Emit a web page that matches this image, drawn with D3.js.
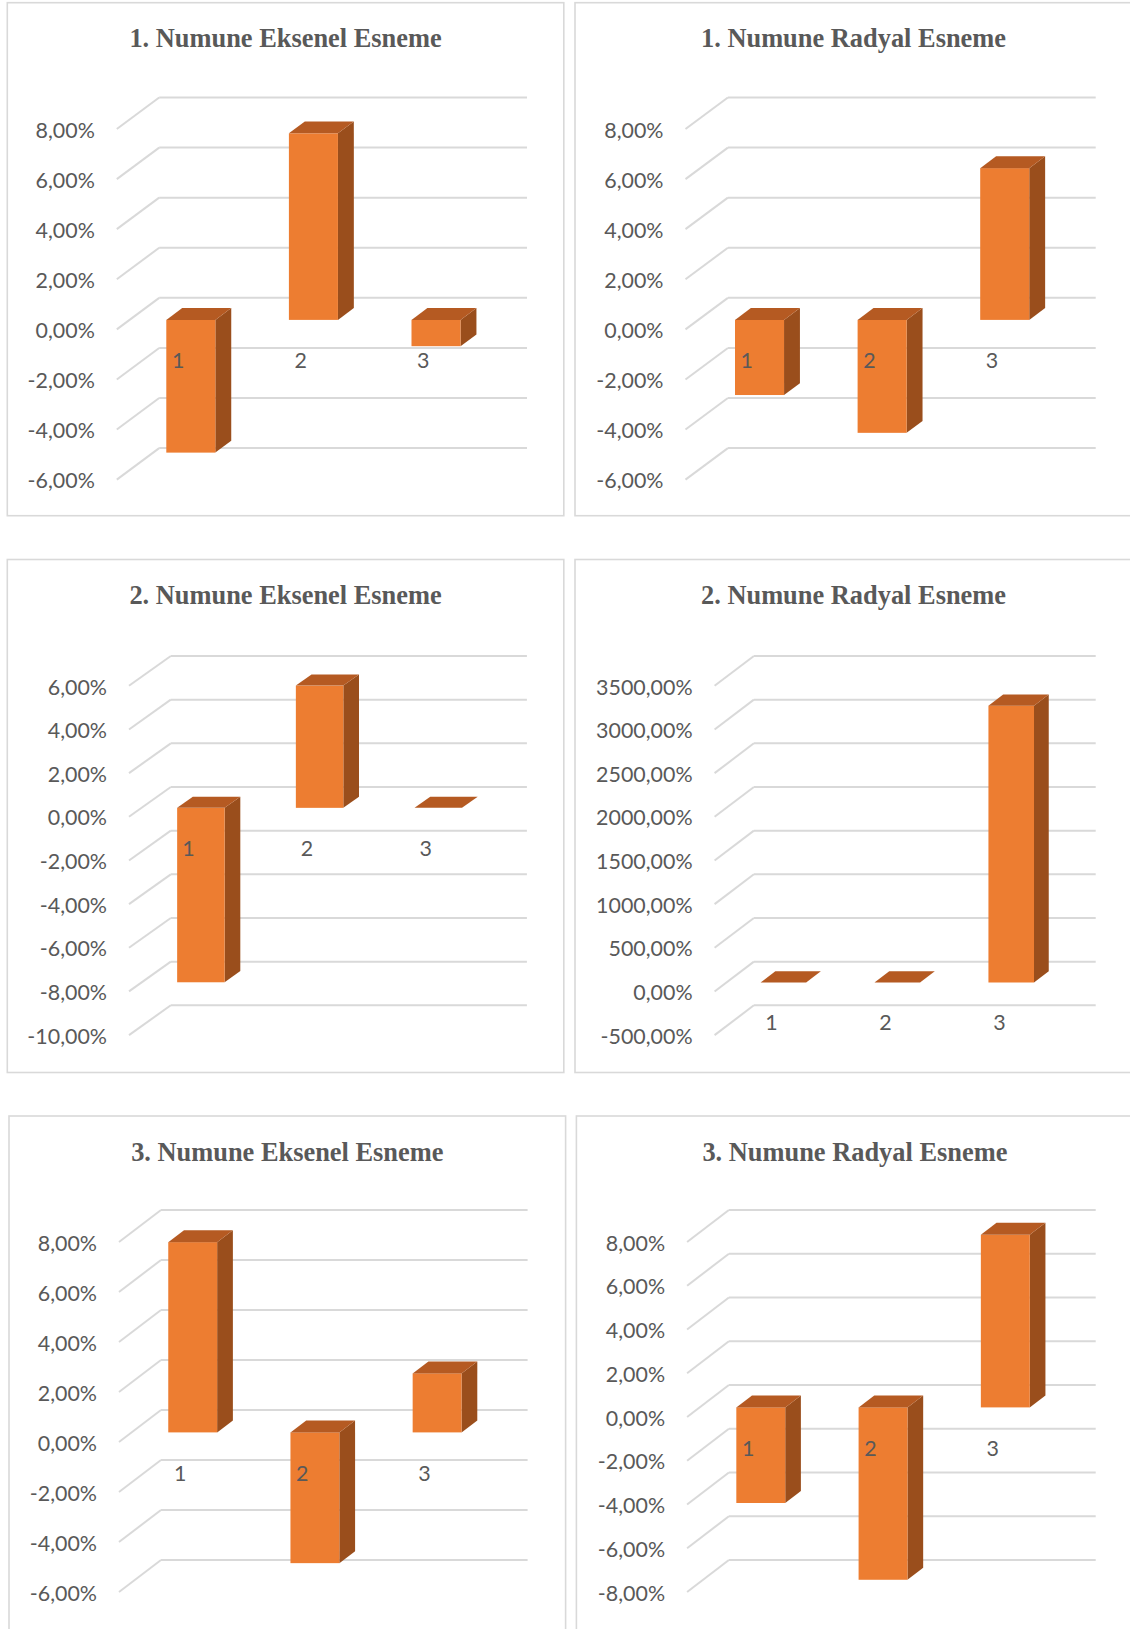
<!DOCTYPE html>
<html><head><meta charset="utf-8">
<script src="https://cdn.jsdelivr.net/npm/d3@7"></script>
<style>body{margin:0;background:#fff} svg{display:block}</style>
</head><body>
<svg id="c" width="1130" height="1629"></svg>
<script>
// ---------- data ----------
const categories = ["1", "2", "3"];
const titles = [
  "1. Numune Eksenel Esneme", "1. Numune Radyal Esneme",
  "2. Numune Eksenel Esneme", "2. Numune Radyal Esneme",
  "3. Numune Eksenel Esneme", "3. Numune Radyal Esneme"
];
const numune1Eksenel = [-5.30, 7.45, -1.05];
const numune1Radyal  = [-3.00, -4.51, 6.06];
const numune2Eksenel = [-7.99, 5.60, 0.00];
const numune2Radyal  = [0.00, 0.00, 3170];
const numune3Eksenel = [7.61, -5.23, 2.36];
const numune3Radyal  = [-4.37, -7.88, 7.89];
const ticks1Eksenel = [-6, -4, -2, 0, 2, 4, 6, 8];
const ticks1Radyal  = [-6, -4, -2, 0, 2, 4, 6, 8];
const ticks2Eksenel = [-10, -8, -6, -4, -2, 0, 2, 4, 6];
const ticks2Radyal  = [-500, 0, 500, 1000, 1500, 2000, 2500, 3000, 3500];
const ticks3Eksenel = [-6, -4, -2, 0, 2, 4, 6, 8];
const ticks3Radyal  = [-8, -6, -4, -2, 0, 2, 4, 6, 8];

const seriesList = [numune1Eksenel, numune1Radyal, numune2Eksenel, numune2Radyal, numune3Eksenel, numune3Radyal];
const tickList = [ticks1Eksenel, ticks1Radyal, ticks2Eksenel, ticks2Radyal, ticks3Eksenel, ticks3Radyal];

// ---------- layout (panel frames + 3D plot geometry) ----------
const layout = [
  {x: 7.3,   y: 2.7,    w: 556.5, h: 513, L: 151.9, R: 519.7, T: 94.8, B: 445.4, dx: 42.4, dy: 31.5},
  {x: 575,   y: 2.7,    w: 557,   h: 513, L: 152.9, R: 520.7, T: 94.8, B: 445.4, dx: 42.4, dy: 31.5},
  {x: 7.3,   y: 559.5,  w: 556.5, h: 513, L: 163.5, R: 519.6, T: 96.5, B: 445.8, dx: 41.8, dy: 29.8},
  {x: 575,   y: 559.5,  w: 557,   h: 513, L: 178.9, R: 520.7, T: 96.5, B: 445.8, dx: 39.3, dy: 29.8},
  {x: 9,     y: 1116,   w: 556.6, h: 520, L: 152.0, R: 518.6, T: 94.0, B: 444.0, dx: 42.0, dy: 32.0},
  {x: 576.4, y: 1116,   w: 557,   h: 520, L: 152.5, R: 519.3, T: 94.0, B: 444.0, dx: 41.8, dy: 32.0}
];

const svg = d3.select("#c");
const labelFont = "Lato, 'Open Sans', sans-serif";
const titleFont = "'Liberation Serif', 'Times New Roman', serif";

// size tick font so "8,00%" is ~59px wide (as in reference)
const probe = svg.append("text").attr("font-family", labelFont).attr("font-size", 100).text("8,00%");
const labelSize = 100 * 59.3 / probe.node().getComputedTextLength();
probe.remove();
const probeT = svg.append("text").attr("font-family", titleFont).attr("font-weight", "bold")
  .attr("font-size", 100).text(titles[0]);
const titleSize = 100 * 312.5 / probeT.node().getComputedTextLength();
probeT.remove();

const locale = d3.formatLocale({decimal: ",", thousands: ".", grouping: [3], currency: ["", ""], minus: "-"});
const fmt = locale.format(".2f");

const D1 = 0.70, D0 = 0.325, BAR = 0.40;
const colFront = "#ED7D31", colTop = "#B55A22", colSide = "#9A4E1C";
const gridCol = "#D9D9D9";
const textShift = labelSize * 0.36 + 1;

layout.forEach((p, i) => {
  const values = seriesList[i];
  const ticks = tickList[i];
  const g = svg.append("g").attr("transform", `translate(${p.x},${p.y})`);

  g.append("rect").attr("x", 0).attr("y", 0).attr("width", p.w).attr("height", p.h)
    .attr("fill", "#fff").attr("stroke", gridCol).attr("stroke-width", 1.6);

  g.append("text").attr("x", p.w / 2).attr("y", 44.5)
    .attr("text-anchor", "middle").attr("font-family", titleFont).attr("font-weight", "bold")
    .attr("font-size", titleSize).attr("fill", "#595959").text(titles[i]);

  const y = d3.scaleLinear().domain(d3.extent(ticks)).range([p.B, p.T]);
  const x = d3.scaleBand().domain(categories).range([p.L, p.R]).padding(0);
  const bw = x.bandwidth();

  // gridlines: back wall + left side wall edges
  const grid = g.append("g").attr("stroke", gridCol).attr("stroke-width", 2).attr("fill", "none");
  ticks.forEach(t => {
    const yy = y(t);
    grid.append("line").attr("x1", p.L).attr("y1", yy).attr("x2", p.R).attr("y2", yy);
    grid.append("line").attr("x1", p.L).attr("y1", yy).attr("x2", p.L - p.dx).attr("y2", yy + p.dy);
  });

  // tick labels
  g.append("g").selectAll("text").data(ticks).join("text")
    .attr("x", p.L - p.dx - 22)
    .attr("y", t => y(t) + p.dy + textShift)
    .attr("text-anchor", "end").attr("font-family", labelFont).attr("font-size", labelSize)
    .attr("fill", "#595959").text(t => fmt(t) + "%");

  // 3D bars
  const bars = g.append("g");
  values.forEach((v, k) => {
    const cx = x(categories[k]) + bw / 2;
    const xl = cx - bw * BAR / 2, xr = cx + bw * BAR / 2;
    const yt = y(Math.max(v, 0)), yb = y(Math.min(v, 0));
    const fx = d => -p.dx * d, fy = d => p.dy * d;
    // side face
    bars.append("polygon").attr("fill", colSide).attr("points", [
      [xr + fx(D1), yt + fy(D1)], [xr + fx(D0), yt + fy(D0)],
      [xr + fx(D0), yb + fy(D0)], [xr + fx(D1), yb + fy(D1)]].map(q => q.join(",")).join(" "));
    // front face
    if (yb - yt > 0.01) {
      bars.append("rect").attr("fill", colFront)
        .attr("x", xl + fx(D1)).attr("y", yt + fy(D1))
        .attr("width", xr - xl).attr("height", yb - yt);
    }
    // top face
    bars.append("polygon").attr("fill", colTop).attr("points", [
      [xl + fx(D1), yt + fy(D1)], [xr + fx(D1), yt + fy(D1)],
      [xr + fx(D0), yt + fy(D0)], [xl + fx(D0), yt + fy(D0)]].map(q => q.join(",")).join(" "));
  });

  // category labels on the front edge of the floor
  g.append("g").selectAll("text").data(categories).join("text")
    .attr("x", c => x(c) + bw / 2 - p.dx)
    .attr("y", y(0) + p.dy + 31.3 + textShift - 1)
    .attr("text-anchor", "middle").attr("font-family", labelFont).attr("font-size", labelSize)
    .attr("fill", "#595959").text(c => c);
});
</script>
</body></html>
